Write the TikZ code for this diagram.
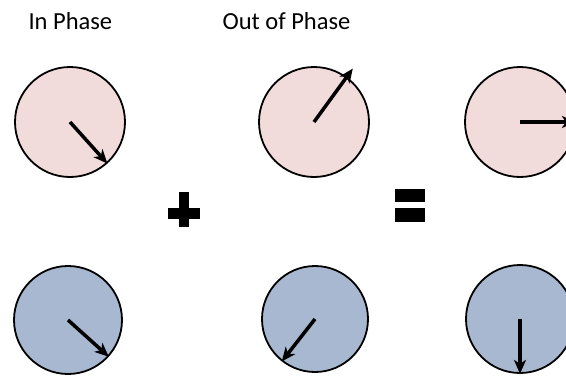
\documentclass[tikz,border=0pt]{standalone}
\usepackage{fontspec}
\setmainfont{Carlito}
\usetikzlibrary{arrows.meta}

\begin{document}
\begin{tikzpicture}[x=1pt,y=1pt,
    rojo/.style={circle, draw=black, line width=1.8pt, fill=rojoclaro, minimum size=110pt, inner sep=0pt},
    azul/.style={circle, draw=black, line width=1.8pt, fill=azulgris, minimum size=108pt, inner sep=0pt},
    fasor/.style={line width=3.5pt, -{Stealth[length=14pt,width=12pt,inset=4pt]}},
    titulo/.style={anchor=base west, font=\fontsize{24.5}{29}\selectfont}]
    \definecolor{rojoclaro}{RGB}{242,220,219}
    \definecolor{azulgris}{RGB}{168,184,208}
    % Marco de la imagen: 566 x 376
    \useasboundingbox (0,0) rectangle (566,376);
    \clip (0,0) rectangle (566,376);

    % Titulos
    \node[titulo] (tIn)  at (25,346)  {In Phase};
    \node[titulo] (tOut) at (219,346) {Out of Phase};

    % Circulos: fila de arriba (rojo), fila de abajo (azul)
    \node[rojo] (inArr)  at (70,254)  {};
    \node[rojo] (outArr) at (314,254) {};
    \node[rojo] (sumArr) at (520,254) {};
    \node[azul] (inAba)  at (68,56)   {};
    \node[azul, minimum size=106pt] (outAba) at (315,57) {};
    \node[azul] (sumAba) at (520,57)  {};

    % Punta que sale del circulo
    \path (outArr.center) ++(54:66) coordinate (pOut);

    % Fasores
    \draw[fasor] (inArr.center)  -- (inArr.-48);
    \draw[fasor] (outArr.center) -- (pOut);
    \draw[fasor] (sumArr.center) -- (sumArr.0);
    \draw[fasor] (inAba.center)  -- (inAba.-42);
    \draw[fasor] (outAba.center) -- (outAba.-128);
    \draw[fasor] (sumAba.center) -- (sumAba.-90);

    % Signos + y =
    \fill (179,149) rectangle (189,184);
    \fill (168,157) rectangle (200,168);
    \fill (395,174) rectangle (425,187);
    \fill (395,154) rectangle (425,168);
\end{tikzpicture}
\end{document}
